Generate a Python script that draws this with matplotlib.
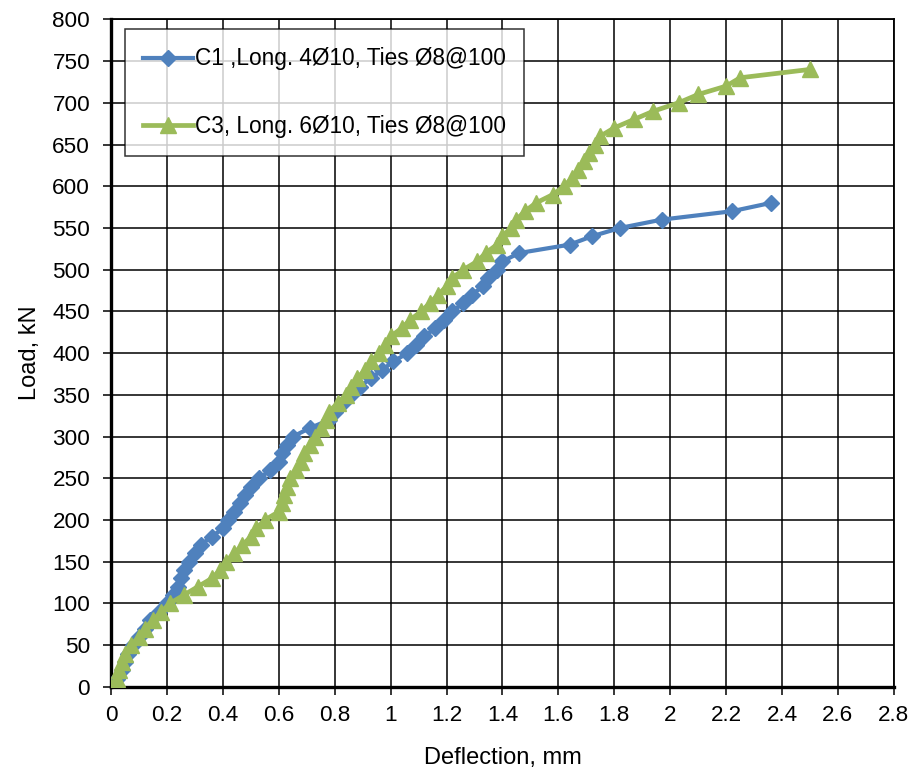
import matplotlib.pyplot as plt
import numpy as np

plt.rcParams["font.family"] = ["Liberation Sans", "DejaVu Sans"]

# C1 ,Long. 4Ø10 - deflection (mm) and load (kN)
c1_defl = [0, 0.02, 0.04, 0.05, 0.06, 0.08, 0.10, 0.12, 0.14, 0.17, 0.20,
           0.22, 0.24, 0.25, 0.26, 0.28, 0.30, 0.32, 0.36, 0.40, 0.42, 0.44,
           0.46, 0.48, 0.50, 0.53, 0.57, 0.60, 0.61, 0.63, 0.65, 0.71, 0.78,
           0.80, 0.83, 0.86, 0.89, 0.93, 0.97, 1.01, 1.06, 1.09, 1.12, 1.16,
           1.19, 1.22, 1.26, 1.29, 1.33, 1.35, 1.38, 1.40, 1.46, 1.64, 1.72,
           1.82, 1.97, 2.22, 2.36]
c1_load = [0, 10, 20, 30, 40, 50, 60, 70, 80, 90, 100,
           110, 120, 130, 140, 150, 160, 170, 180, 190, 200, 210,
           220, 230, 240, 250, 260, 270, 280, 290, 300, 310, 320,
           330, 340, 350, 360, 370, 380, 390, 400, 410, 420, 430,
           440, 450, 460, 470, 480, 490, 500, 510, 520, 530, 540,
           550, 560, 570, 580]

# C3, Long. 6Ø10
c3_defl = [0, 0.02, 0.03, 0.04, 0.05, 0.07, 0.10, 0.12, 0.15, 0.18, 0.21,
           0.26, 0.31, 0.36, 0.39, 0.41, 0.44, 0.47, 0.50, 0.52, 0.55, 0.60,
           0.61, 0.62, 0.63, 0.64, 0.66, 0.68, 0.69, 0.71, 0.73, 0.75, 0.77,
           0.78, 0.81, 0.84, 0.86, 0.88, 0.91, 0.93, 0.96, 0.98, 1.00, 1.04,
           1.07, 1.11, 1.14, 1.17, 1.20, 1.22, 1.26, 1.31, 1.34, 1.38, 1.40,
           1.43, 1.45, 1.48, 1.52, 1.58, 1.62, 1.65, 1.67, 1.69, 1.71, 1.73,
           1.75, 1.80, 1.87, 1.94, 2.03, 2.10, 2.20, 2.25, 2.50]
c3_load = [0, 10, 20, 30, 40, 50, 60, 70, 80, 90, 100,
           110, 120, 130, 140, 150, 160, 170, 180, 190, 200, 210,
           220, 230, 240, 250, 260, 270, 280, 290, 300, 310, 320,
           330, 340, 350, 360, 370, 380, 390, 400, 410, 420, 430,
           440, 450, 460, 470, 480, 490, 500, 510, 520, 530, 540,
           550, 560, 570, 580, 590, 600, 610, 620, 630, 640, 650,
           660, 670, 680, 690, 700, 710, 720, 730, 740]

x_ticks = np.arange(0, 2.81, 0.2)
x_labels = ["0", "0.2", "0.4", "0.6", "0.8", "1", "1.2", "1.4", "1.6", "1.8",
            "2", "2.2", "2.4", "2.6", "2.8"]
y_ticks = np.arange(0, 801, 50)

fig = plt.figure(figsize=(9.14, 7.74), dpi=100)
ax = fig.add_axes([0.1215, 0.1125, 0.8565, 0.8625])

ax.plot(c1_defl, c1_load, color="#4F81BD", lw=3, marker="D", ms=8,
        label="C1 ,Long. 4Ø10, Ties Ø8@100", zorder=3)
ax.plot(c3_defl, c3_load, color="#9BBB59", lw=3.4, marker="^", ms=12,
        label="C3, Long. 6Ø10, Ties Ø8@100", zorder=4)

ax.set_xlim(0, 2.8)
ax.set_ylim(0, 800)
ax.set_xticks(x_ticks)
ax.set_xticklabels(x_labels)
ax.set_yticks(y_ticks)
ax.grid(True, color="black", lw=1.1)
ax.set_axisbelow(True)

for s in ["top", "right"]:
    ax.spines[s].set_linewidth(1.3)
for s in ["left", "bottom"]:
    ax.spines[s].set_linewidth(2.4)

ax.tick_params(axis="both", labelsize=16.2, direction="out", length=6,
               width=1.1, color="black")
ax.tick_params(axis="x", pad=7)
ax.tick_params(axis="y", pad=9)

ax.set_xlabel("Deflection, mm", fontsize=17, labelpad=15)
ax.set_ylabel("Load, kN", fontsize=17, labelpad=8)

leg = ax.legend(loc="upper left", bbox_to_anchor=(0.018, 0.985), fontsize=16.3,
                frameon=True, fancybox=False, edgecolor="black",
                borderpad=0.8, labelspacing=1.97, handlelength=2.2,
                handletextpad=0.1, borderaxespad=0)
leg.get_frame().set_linewidth(1.1)

fig.savefig("out.png", dpi=100)
